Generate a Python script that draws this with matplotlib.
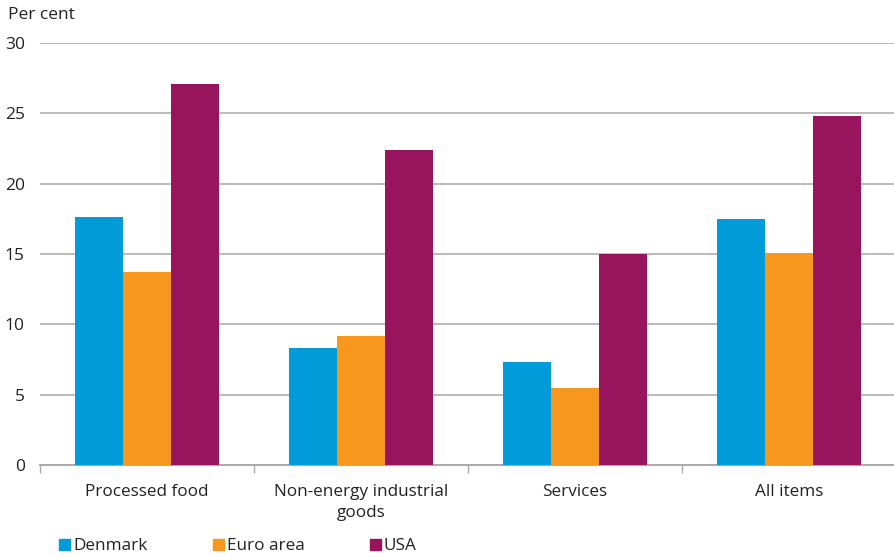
import matplotlib
matplotlib.use("Agg")
import matplotlib.pyplot as plt
import matplotlib.transforms as mtransforms
import numpy as np

categories = ["Processed food", "Non-energy industrial\ngoods", "Services", "All items"]
series_names = ["Denmark", "Euro area", "USA"]
denmark = [17.6, 8.3, 7.3, 17.5]
euro_area = [13.7, 9.2, 5.5, 15.1]
usa = [27.1, 22.4, 15.0, 24.8]
colors = ["#009BD8", "#F7971E", "#98155E"]
yticks = [0, 5, 10, 15, 20, 25, 30]

plt.rcParams["font.family"] = ["Open Sans", "DejaVu Sans"]
TEXT = "#222222"
W, H = 895, 557

fig = plt.figure(figsize=(W / 100, H / 100), dpi=100)
ax = fig.add_axes([40 / W, 1 - 465 / H, 856 / W, (465 - 43) / H])

x = np.arange(len(categories))
width = 0.224
for i, (vals, col, name) in enumerate(zip([denmark, euro_area, usa], colors, series_names)):
    ax.bar(x + (i - 1) * width, vals, width=width, color=col, label=name, zorder=3)

ax.set_xlim(-0.5, len(categories) - 0.5)
ax.set_ylim(0, 30)
ax.set_yticks(yticks)
ax.set_yticklabels([str(t) for t in yticks], fontsize=12.5, color=TEXT)
ax.tick_params(axis="y", length=0, pad=11)

ax.yaxis.grid(True, color="#BBBBBB", linewidth=1.4, zorder=0)
ax.set_axisbelow(True)

# Boundary ticks between groups; category names drawn beneath each group
ax.set_xticks(np.arange(len(categories) + 1) - 0.5)
ax.set_xticklabels([])
ax.tick_params(axis="x", length=6, color="#AAAAAA", width=1)

label_trans = mtransforms.blended_transform_factory(ax.transData, fig.transFigure)
for xi, lab in zip(x, categories):
    ax.text(xi, 1 - 484 / H, lab, ha="center", va="top", fontsize=12.3, color=TEXT,
            linespacing=1.45, transform=label_trans)

for s in ["top", "right", "left"]:
    ax.spines[s].set_visible(False)
ax.spines["bottom"].set_color("#AAAAAA")
ax.spines["bottom"].set_linewidth(1.4)

fig.text(8 / W, 1 - 15 / H, "Per cent", fontsize=12.5, color=TEXT,
         ha="left", va="center")

# Legend row along the bottom edge
legend_x = [59, 213, 370]
for lx, col, name in zip(legend_x, colors, series_names):
    fig.add_artist(plt.Rectangle((lx / W, 1 - 550 / H), 11 / W, 11 / H,
                                 color=col, transform=fig.transFigure))
    fig.text((lx + 14) / W, 1 - 550 / H, name, fontsize=12.3, color=TEXT,
             ha="left", va="baseline")

fig.savefig("out.png", dpi=100)
